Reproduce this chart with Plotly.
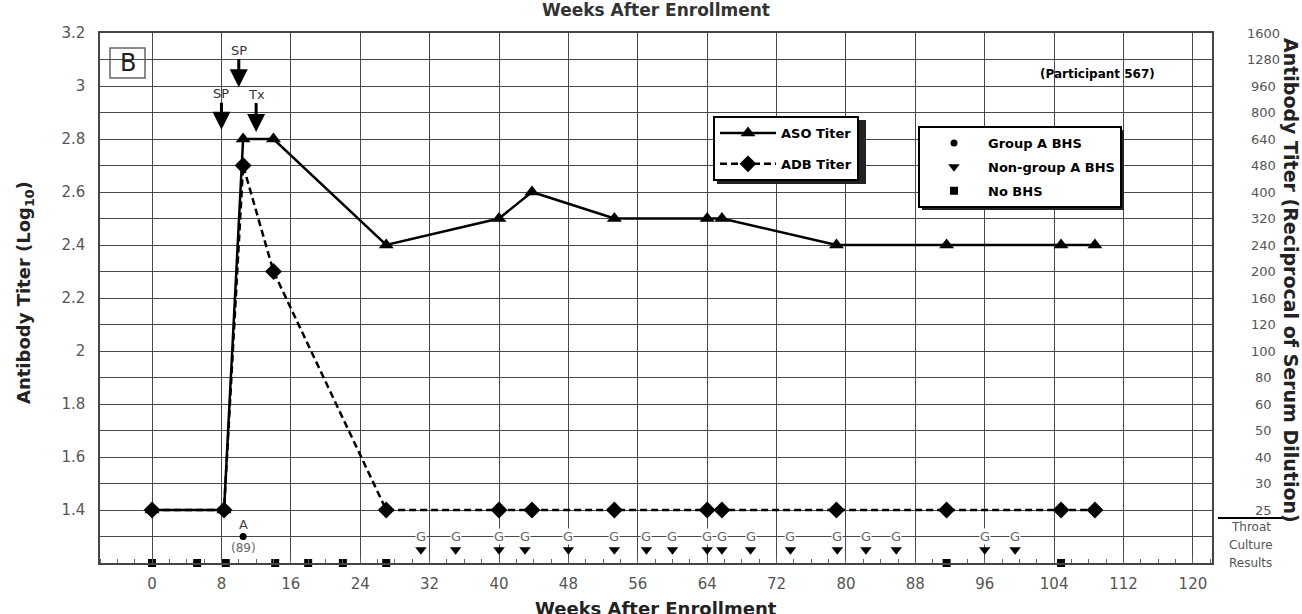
import plotly.graph_objects as go

# ---------------- data ----------------
aso_weeks = [0, 8.3, 10.5, 14, 27, 40, 43.8, 53.3, 64, 65.7, 78.9, 91.6, 104.8, 108.7]
aso_vals = [1.4, 1.4, 2.8, 2.8, 2.4, 2.5, 2.6, 2.5, 2.5, 2.5, 2.4, 2.4, 2.4, 2.4]

adb_weeks = [0, 8.3, 10.5, 14, 27, 40, 43.8, 53.3, 64, 65.7, 78.9, 91.6, 104.8, 108.7]
adb_vals = [1.4, 1.4, 2.7, 2.3, 1.4, 1.4, 1.4, 1.4, 1.4, 1.4, 1.4, 1.4, 1.4, 1.4]

groupA_weeks = [10.5]
groupA_labels_top = ["A"]
groupA_labels_bottom = ["(89)"]

nongroupA_weeks = [31, 35, 40, 43, 48, 53.3, 57, 60, 64, 65.7, 69, 73.6, 79, 82.3, 85.8, 96, 99.5]
noBHS_weeks = [0, 5.2, 8.5, 14.2, 18, 22, 27, 91.6, 104.8]

culture_label_level = 1.3
nongroupA_level = 1.25
noBHS_level = 1.2

event_labels = ["SP", "SP", "Tx"]
event_weeks = [8, 10, 12]
event_tip = [2.835, 2.995, 2.826]
event_offset = [-36, -37, -38]

x_ticks = list(range(0, 121, 8))
y_ticks = [3.2, 3.0, 2.8, 2.6, 2.4, 2.2, 2.0, 1.8, 1.6, 1.4]
y_ticktext = ["3.2", "3", "2.8", "2.6", "2.4", "2.2", "2", "1.8", "1.6", "1.4"]
right_tick_vals = [3.2, 3.1, 3.0, 2.9, 2.8, 2.7, 2.6, 2.5, 2.4, 2.3, 2.2, 2.1, 2.0, 1.9, 1.8, 1.7, 1.6, 1.5, 1.4]
right_tick_text = ["1600", "1280", "960", "800", "640", "480", "400", "320", "240", "200",
                   "160", "120", "100", "80", "60", "50", "40", "30", "25"]

FONT = "DejaVu Sans, Verdana, sans-serif"
GRID = "#4a4a4a"
W, H = 1302, 614
L, R, T, B = 100, 90, 33, 51
PW, PH = W - L - R, H - T - B


def px(x):
    return (x - L) / PW


def py(y):
    return (H - B - y) / PH


fig = go.Figure()

fig.add_trace(go.Scatter(
    x=aso_weeks, y=aso_vals, mode="lines+markers", name="<b>ASO Titer</b>",
    line=dict(color="black", width=2.5),
    marker=dict(symbol="triangle-up", size=13, color="black"),
    legendgroup="aso", legend="legend", cliponaxis=False))
fig.add_trace(go.Scatter(
    x=adb_weeks, y=adb_vals, mode="lines+markers", name="<b>ADB Titer</b>",
    line=dict(color="black", width=2.5, dash="7px,4px"),
    marker=dict(symbol="diamond", size=13, color="black"),
    legendgroup="adb", legend="legend", cliponaxis=False))

fig.add_trace(go.Scatter(
    x=groupA_weeks, y=[culture_label_level] * len(groupA_weeks), mode="markers",
    name="<b>Group A BHS</b>", marker=dict(symbol="circle", size=7, color="black"),
    legendgroup="ga", legend="legend2", cliponaxis=False))
fig.add_trace(go.Scatter(
    x=nongroupA_weeks, y=[nongroupA_level] * len(nongroupA_weeks), mode="markers",
    name="<b>Non-group A BHS</b>", marker=dict(symbol="triangle-down", size=10, color="black"),
    legendgroup="ng", legend="legend2", cliponaxis=False))
fig.add_trace(go.Scatter(
    x=noBHS_weeks, y=[noBHS_level] * len(noBHS_weeks), mode="markers",
    name="<b>No BHS</b>", marker=dict(symbol="square", size=8, color="black"),
    legendgroup="no", legend="legend2", cliponaxis=False))

annotations = []
for w in nongroupA_weeks:
    annotations.append(dict(x=w, y=culture_label_level, xref="x", yref="y", text="G",
                            showarrow=False, bgcolor="white", borderpad=0,
                            xanchor="center", yanchor="middle",
                            font=dict(family=FONT, size=13, color="#666")))
for w, t, b in zip(groupA_weeks, groupA_labels_top, groupA_labels_bottom):
    annotations.append(dict(x=w, y=1.347, xref="x", yref="y", text=t, showarrow=False,
                            xanchor="center", yanchor="middle",
                            font=dict(family=FONT, size=13, color="#444")))
    annotations.append(dict(x=w, y=1.257, xref="x", yref="y", text=b, showarrow=False,
                            xanchor="center", yanchor="middle",
                            font=dict(family=FONT, size=12, color="#666")))
for lab, w, tip, off in zip(event_labels, event_weeks, event_tip, event_offset):
    annotations.append(dict(x=w, y=tip, xref="x", yref="y", text=lab, showarrow=True,
                            arrowhead=2, arrowsize=1.2, arrowwidth=3, arrowcolor="black",
                            ax=0, ay=off, standoff=0,
                            font=dict(family=FONT, size=13, color="#333")))
for v, t in zip(right_tick_vals, right_tick_text):
    annotations.append(dict(x=px(1263), y=v, xref="paper", yref="y", text=t, showarrow=False,
                            xanchor="center", yanchor="middle",
                            font=dict(family=FONT, size=13, color="#555")))
for i, t in enumerate(["Throat", "Culture", "Results"]):
    annotations.append(dict(x=px(1251), y=py(527 + 18 * i), xref="paper", yref="paper",
                            text=t, showarrow=False, xanchor="center", yanchor="middle",
                            font=dict(family=FONT, size=12, color="#555")))
annotations += [
    dict(x=px(25), y=py(293), xref="paper", yref="paper",
         text="<b>Antibody Titer (Log<sub>10</sub>)</b>", textangle=-90, showarrow=False,
         xanchor="center", yanchor="middle", font=dict(family=FONT, size=18, color="#222")),
    dict(x=px(1291), y=py(281), xref="paper", yref="paper",
         text="<b>Antibody Titer (Reciprocal of Serum Dilution)</b>", textangle=90,
         showarrow=False, xanchor="center", yanchor="middle",
         font=dict(family=FONT, size=19, color="#222")),
    dict(x=px(656), y=py(596), xref="paper", yref="paper", text="<b>Weeks After Enrollment</b>",
         showarrow=False, xanchor="center", yanchor="top",
         font=dict(family=FONT, size=18, color="#222")),
    dict(x=px(656), y=py(-2), xref="paper", yref="paper", text="<b>Weeks After Enrollment</b>",
         showarrow=False, xanchor="center", yanchor="top",
         font=dict(family=FONT, size=17, color="#333")),
    dict(x=px(1097), y=py(74), xref="paper", yref="paper", text="<b>(Participant 567)</b>",
         showarrow=False, xanchor="center", yanchor="middle",
         font=dict(family=FONT, size=12, color="black")),
    dict(x=px(127.5), y=py(63), xref="paper", yref="paper", text="B",
         showarrow=False, xanchor="center", yanchor="middle",
         font=dict(family=FONT, size=24, color="#222")),
]

shapes = [
    dict(type="rect", xref="paper", yref="paper", x0=px(110), x1=px(145),
         y0=py(78), y1=py(48), line=dict(color="#666", width=1.5), fillcolor="white",
         layer="below"),
    dict(type="line", xref="paper", yref="paper", x0=px(1218), x1=px(1283),
         y0=py(518), y1=py(518), line=dict(color="black", width=2)),
    # legend drop shadows
    dict(type="rect", xref="paper", yref="paper", x0=px(717), x1=px(866),
         y0=py(184), y1=py(120), line=dict(width=0), fillcolor="#222", layer="above"),
    dict(type="rect", xref="paper", yref="paper", x0=px(922), x1=px(1124),
         y0=py(210), y1=py(130), line=dict(width=0), fillcolor="#222", layer="above"),
]

fig.update_layout(
    width=W, height=H,
    margin=dict(l=L, r=R, t=T, b=B),
    paper_bgcolor="white", plot_bgcolor="white",
    font=dict(family=FONT),
    annotations=annotations, shapes=shapes,
    legend=dict(x=px(713), y=py(116), xanchor="left", yanchor="top",
                bordercolor="black", borderwidth=2, bgcolor="white", tracegroupgap=11,
                itemwidth=56, font=dict(family=FONT, size=13, color="black")),
    legend2=dict(x=px(918), y=py(126), xanchor="left", yanchor="top",
                 bordercolor="black", borderwidth=2, bgcolor="white", tracegroupgap=4,
                 itemwidth=58, font=dict(family=FONT, size=13, color="black")),
)

fig.update_xaxes(range=[-6, 122.2], tickvals=x_ticks, showgrid=True, gridcolor=GRID, gridwidth=1,
                 showline=True, linecolor="#444", linewidth=1.5, mirror=True, zeroline=False,
                 ticks="", ticklabelstandoff=6,
                 minor=dict(dtick=2, tick0=0, ticks="inside", ticklen=4, tickcolor="#666", showgrid=False),
                 tickfont=dict(family=FONT, size=15, color="#555"))
fig.update_yaxes(range=[1.2, 3.2], tickvals=y_ticks, ticktext=y_ticktext, showgrid=True,
                 gridcolor=GRID, gridwidth=1, showline=True, linecolor="#444", linewidth=1.5,
                 mirror=True, zeroline=False, ticks="", ticklabelstandoff=10,
                 minor=dict(dtick=0.1, tick0=1.2, showgrid=True, gridcolor=GRID, gridwidth=1),
                 tickfont=dict(family=FONT, size=15, color="#555"))

fig.write_html("out.html", config={"displayModeBar": False},
               post_script="document.body.style.margin='0px';")
